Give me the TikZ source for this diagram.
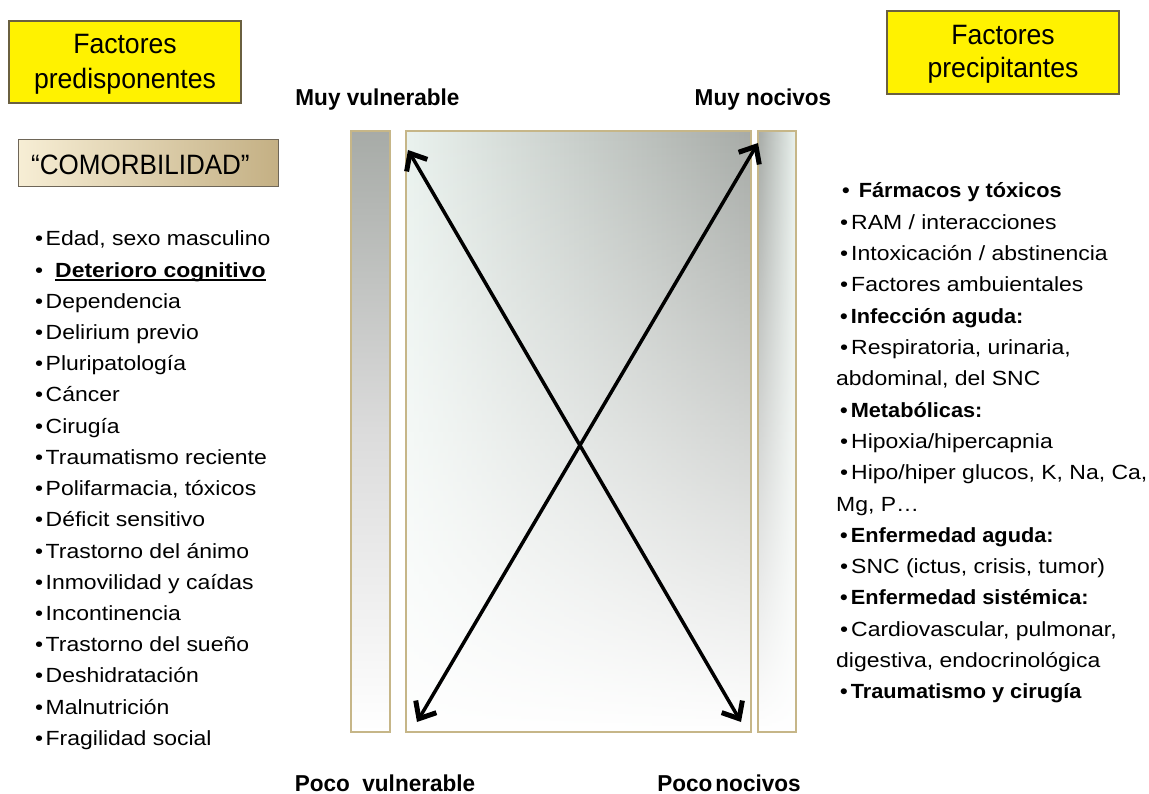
\documentclass[tikz,border=0pt]{standalone}
\usepackage{fontspec}
\setmainfont{Liberation Sans}
\newfontfamily\listfont[FakeStretch=1.12]{Liberation Sans}
\newfontfamily\blistfont[FakeStretch=1.06]{Liberation Sans}
\newfontfamily\headfont[FakeStretch=0.95]{Liberation Sans}
\newfontfamily\comofont[FakeStretch=0.93]{Liberation Sans}
\newfontfamily\lblfont[FakeStretch=0.98]{Liberation Sans}
\usetikzlibrary{arrows.meta,fadings}
\definecolor{ybox}{HTML}{FFF200}
\definecolor{yedge}{HTML}{6A6040}
\definecolor{tan}{HTML}{C6B688}
\definecolor{grayA}{HTML}{A7ABA7}
\definecolor{paleA}{HTML}{EAF2EE}
\definecolor{creamL}{HTML}{F7EED5}
\definecolor{creamR}{HTML}{C4B084}
\definecolor{comoedge}{HTML}{6E6658}
\tikzfading[name=fadeup, top color=transparent!100, bottom color=transparent!0]
\begin{document}
\begin{tikzpicture}[x=1pt,y=-1pt,
  yellowbox/.style={draw=yedge, line width=1.1pt, fill=ybox, inner sep=0pt, minimum width=232pt, minimum height=82pt},
  headtxt/.style={font=\headfont\fontsize{28}{32}\selectfont, anchor=base, inner sep=0pt},
  lbl/.style={font=\lblfont\bfseries\fontsize{23}{26}\selectfont, anchor=base, inner sep=0pt},
  item/.style={font=\listfont\fontsize{20.5}{24}\selectfont, anchor=base west, inner sep=0pt},
  bitem/.style={font=\blistfont\bfseries\fontsize{20.5}{24}\selectfont, anchor=base west, inner sep=0pt},
  frame/.style={draw=tan, line width=2.5pt},
  panel/.style={inner sep=0pt, minimum height=601pt},
  dblarrow/.style={line width=3.5pt, line join=round,
    {Straight Barb[length=14pt,width=24pt,line width=5pt]}-{Straight Barb[length=14pt,width=24pt,line width=5pt]}}
]
\fill[white] (0,0) rectangle (1149,794);
\useasboundingbox (0,0) rectangle (1149,794);

% header boxes
\node[yellowbox] (boxL) at (125,62) {};
\node[headtxt] (boxL1) at (125,54) {Factores};
\node[headtxt] (boxL2) at (125,89) {predisponentes};
\node[yellowbox, minimum height=83pt] (boxR) at (1003,52.5) {};
\node[headtxt] (boxR1) at (1003,45) {Factores};
\node[headtxt] (boxR2) at (1003,78) {precipitantes};

% comorbilidad
\node[draw=comoedge, line width=1pt, left color=creamL, right color=creamR, inner sep=0pt,
      minimum width=260pt, minimum height=47pt] (como) at (148,163.5) {};
\node[font=\comofont\fontsize{28}{30}\selectfont, anchor=base west, inner sep=0pt] (comotxt) at (31,175) {“COMORBILIDAD”};

% panels
\node[panel, minimum width=39pt, top color=grayA, bottom color=white, middle color=black!14] (barL) at (370.5,431.5) {};
\node[panel, minimum width=345pt, left color=paleA, right color=grayA] (mid) at (578.5,431.5) {};
\fill[white, path fading=fadeup] (mid.north west) rectangle (mid.south east);
\node[panel, minimum width=38pt, left color=grayA, right color=paleA] (barR) at (777,431.5) {};
\fill[white, path fading=fadeup] (barR.north west) rectangle (barR.south east);
\draw[frame] (barL.north west) rectangle (barL.south east);
\draw[frame] (mid.north west) rectangle (mid.south east);
\draw[frame] (barR.north west) rectangle (barR.south east);

% arrows
\coordinate (a1s) at (417,722);
\coordinate (a1e) at (758,143);
\coordinate (a2s) at (408,150);
\coordinate (a2e) at (741,722);
\draw[dblarrow] (a1s) -- (a1e);
\draw[dblarrow] (a2s) -- (a2e);

% axis labels
\node[lbl] (mv) at (377.5,106) {Muy vulnerable};
\node[lbl] (mn) at (763,106) {Muy nocivos};
\node[lbl] (pv) at (385,791) {Poco\ \ vulnerable};
\node[lbl] (pn) at (729,791) {Poco\hspace{3pt}nocivos};

% left list
\foreach \i/\t in {1/{Edad, sexo masculino},3/{Dependencia},4/{Delirium previo},5/{Pluripatología},
  6/{Cáncer},7/{Cirugía},8/{Traumatismo reciente},9/{Polifarmacia, tóxicos},10/{Déficit sensitivo},
  11/{Trastorno del ánimo},12/{Inmovilidad y caídas},13/{Incontinencia},14/{Trastorno del sueño},
  15/{Deshidratación},16/{Malnutrición},17/{Fragilidad social}}
  \node[item] (L\i) at (35,{246+31.2*(\i-1)}) {•\hspace{2.5pt}\t};
\node[item] (L2b) at (35,277.2) {•};
\node[item, font=\listfont\bfseries\fontsize{20.5}{24}\selectfont] (L2) at (55,277.2) {Deterioro cognitivo};
\draw[line width=1.4pt] ([yshift=-3pt]L2.base west) -- ([yshift=-3pt]L2.base east);

% right list
\foreach \i/\t in {2/{RAM / interacciones},3/{Intoxicación / abstinencia},4/{Factores ambuientales},
  6/{Respiratoria, urinaria,},9/{Hipoxia/hipercapnia},10/{Hipo/hiper glucos, K, Na, Ca,},
  13/{SNC (ictus, crisis, tumor)},15/{Cardiovascular, pulmonar,}}
  \node[item] (R\i) at (840,{198+31.3*(\i-1)}) {•\hspace{3pt}\t};
\foreach \i/\t in {5/{Infección aguda:},8/{Metabólicas:},12/{Enfermedad aguda:},14/{Enfermedad sistémica:},17/{Traumatismo y cirugía}}
  \node[bitem] (R\i) at (840,{198+31.3*(\i-1)}) {•\hspace{3pt}\t};
\node[bitem] (R1) at (842,198) {•\hspace{9pt}Fármacos y tóxicos};
\node[item] (R7) at (836,{198+31.3*6}) {abdominal, del SNC};
\node[item] (R11) at (836,{198+31.3*10}) {Mg, P…};
\node[item] (R16) at (836,{198+31.3*15}) {digestiva, endocrinológica};
\end{tikzpicture}
\end{document}
